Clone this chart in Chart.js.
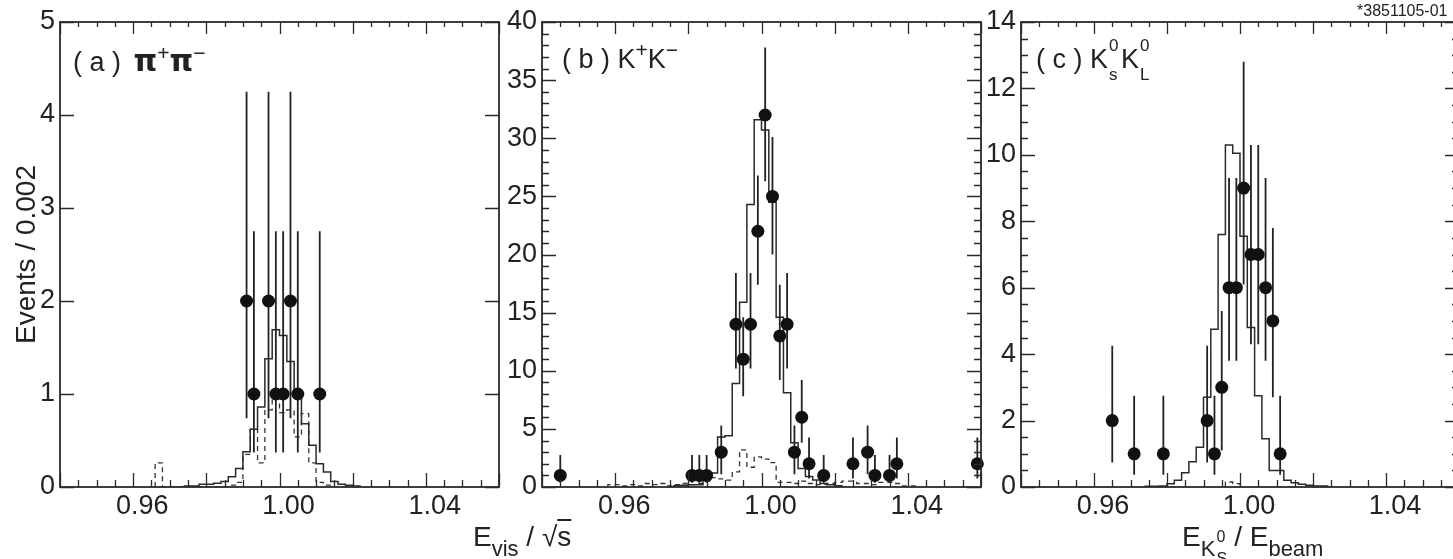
<!DOCTYPE html>
<html>
<head>
<meta charset="utf-8">
<script src="https://cdn.jsdelivr.net/npm/chart.js@4.4.1/dist/chart.umd.min.js"></script>
<style>
    html, body { margin: 0; padding: 0; background: #fff; width: 1453px; height: 559px; overflow: hidden; }
    canvas { position: absolute; top: 0; }
    .txt { position: absolute; font-family: "Liberation Sans", Arial, sans-serif; color: #222; white-space: nowrap; line-height: 1; }
    .sup { font-size: 0.78em; position: relative; top: -0.5em; }
    .sb { font-size: 22px; position: relative; top: 10px; }
    .pi { font-family: "DejaVu Sans", sans-serif; font-weight: bold; font-size: 30px; }
    .stk { display: inline-block; position: relative; height: 0; }
    .stk span { position: absolute; left: 1px; line-height: 1; }
</style>
</head>
<body>
<canvas id="chartA" width="520" height="559" style="left:0px"></canvas>
<canvas id="chartB" width="500" height="559" style="left:500px"></canvas>
<canvas id="chartC" width="500" height="559" style="left:981px"></canvas>

<div class="txt" style="left:73px;top:46px;font-size:27px">( a ) <span class="pi" style="margin-left:5px">π</span><span class="sup">+</span><span class="pi">π</span><span class="sup">−</span></div>
<div class="txt" style="left:562px;top:46px;font-size:27px">( b ) K<span class="sup">+</span>K<span class="sup">−</span></div>
<div class="txt" style="left:1036px;top:46px;font-size:27px">( c ) K<span class="stk" style="width:13px"><span style="font-size:17px;top:-31px">0</span><span style="font-size:17px;top:-2px">s</span></span>K<span class="stk" style="width:13px"><span style="font-size:17px;top:-31px">0</span><span style="font-size:17px;top:-2px">L</span></span></div>
<div class="txt" style="left:473px;top:523px;font-size:28px">E<span class="sb">vis</span> / √<span style="text-decoration:overline">s</span></div>
<div class="txt" style="left:1182px;top:523px;font-size:28px">E<span class="sb">K</span><span class="stk" style="width:11px"><span style="font-size:16px;top:-17px">0</span><span style="font-size:16px;top:5px">S</span></span> / E<span class="sb">beam</span></div>
<div class="txt" style="left:1357px;top:3px;font-size:16px">*3851105-01</div>

<script>
// Common axis settings
const binWidth = 0.002;
const xTickValues = [0.96, 1.00, 1.04];

// (a) pi+ pi- : data points
const aCenters = [0.991, 0.993, 0.997, 0.999, 1.001, 1.003, 1.005, 1.011];
const aCounts  = [2, 1, 2, 1, 1, 2, 1, 1];
const aErrLo   = [0.74, 0.37, 0.74, 0.37, 0.37, 0.74, 0.37, 0.37];
const aErrHi   = [4.25, 2.75, 4.25, 2.75, 2.75, 4.25, 2.75, 2.75];
// (a) solid histogram, bins starting at 0.974
const aSolidStart = 0.974;
const aSolid = [0.01, 0.01, 0.03, 0.03, 0.04, 0.06, 0.11, 0.2, 0.38, 0.62, 0.86, 1.38, 1.69,
                1.63, 1.35, 1.0, 0.68, 0.45, 0.25, 0.16, 0.06, 0.03, 0.02, 0.01];
// (a) dashed histogram, bins starting at 0.966
const aDashStart = 0.966;
const aDash = [0.26, 0, 0, 0, 0, 0, 0, 0, 0, 0, 0.02, 0.05, 0.35, 0.62, 0.26, 0.83, 0.95,
               0.8, 0.83, 0.54, 0.79, 0.26, 0.05, 0.02];
const aYTicks = [0, 1, 2, 3, 4, 5];

// (b) K+ K-
const bCenters = [0.945, 0.981, 0.983, 0.985, 0.989, 0.993, 0.995, 0.997, 0.999, 1.001, 1.003, 1.005,
                  1.007, 1.009, 1.011, 1.013, 1.017, 1.025, 1.029, 1.031, 1.035, 1.037, 1.059];
const bCounts  = [1, 1, 1, 1, 3, 14, 11, 14, 22, 32, 25, 13, 14, 3, 6, 2, 1, 2, 3, 1, 1, 2, 2];
const bErrLo   = [0.37, 0.37, 0.37, 0.37, 1.1, 10.2, 7.8, 10.2, 17.4, 26.3, 20.0, 9.2, 10.2, 1.1, 3.8,
                  0.74, 0.37, 0.74, 1.1, 0.37, 0.37, 0.74, 0.74];
const bErrHi   = [2.75, 2.75, 2.75, 2.75, 5.3, 18.4, 14.6, 18.4, 26.8, 37.8, 30.1, 17.4, 18.4, 5.3, 9.2,
                  4.25, 2.75, 4.25, 5.3, 2.75, 2.75, 4.25, 4.25];
const bSolidStart = 0.976;
const bSolid = [0.1, 0.15, 0.2, 0.2, 0.6, 1.2, 4.3, 4.4, 8.9, 15.9, 24.3, 31.6, 30.7, 24.5, 14.6,
                8.1, 3.8, 1.6, 0.9, 0.6, 0.3, 0.2, 0.1];
const bDashStart = 0.958;
const bDash = [0.2, 0.2, 0.1, 0.2, 0.1, 0.3, 0.2, 0.3, 0.1, 0.2, 0.3, 0.2, 0.3, 0.5, 0.8, 0.7, 0.6,
               1.3, 3.2, 1.7, 2.6, 2.4, 2.1, 0.4, 0.4, 0.3, 0.5, 0.3, 0.2, 0.2, 0.3, 0.4, 0.5, 0.5,
               0.3, 0.3, 0.2, 0.4, 0.4, 0.3, 0.1, 0.1];
const bYTicks = [0, 5, 10, 15, 20, 25, 30, 35, 40];

// (c) Ks KL
const cCenters = [0.965, 0.971, 0.979, 0.991, 0.993, 0.995, 0.997, 0.999, 1.001, 1.003, 1.005, 1.007, 1.009, 1.011];
const cCounts  = [2, 1, 1, 2, 1, 3, 6, 6, 9, 7, 7, 6, 5, 1];
const cErrLo   = [0.74, 0.37, 0.37, 0.74, 0.37, 1.1, 3.8, 3.8, 6.1, 4.3, 4.3, 3.8, 2.7, 0.37];
const cErrHi   = [4.25, 2.75, 2.75, 4.25, 2.75, 5.3, 9.3, 9.3, 12.8, 10.3, 10.3, 9.3, 7.8, 2.75];
const cSolidStart = 0.974;
const cSolid = [0.02, 0.02, 0.03, 0.1, 0.2, 0.43, 0.76, 1.2, 2.7, 4.75, 7.6, 10.3, 10.05, 7.55, 4.8,
                2.75, 1.45, 0.5, 0.5, 0.2, 0.13, 0.08, 0.05, 0.03, 0.03];
const cDashStart = 0.996;
const cDash = [0.15, 0.1];
const cYTicks = [0, 2, 4, 6, 8, 10, 12, 14];

const ink = '#222';
const tickFont = { family: '"Liberation Sans", Arial, sans-serif', size: 27 };

// Histogram outline as stepped line points (bin low edges)
function stepData(start, values) {
    const pts = [{ x: start, y: 0 }];
    values.forEach((v, i) => pts.push({ x: start + i * binWidth, y: v }));
    const end = start + values.length * binWidth;
    pts.push({ x: end, y: values[values.length - 1] });
    pts.push({ x: end, y: 0 });
    return pts;
}

// Vertical error bars as broken line segments
function errorData(centers, lo, hi) {
    const pts = [];
    centers.forEach((c, i) => {
        pts.push({ x: c, y: lo[i] }, { x: c, y: hi[i] }, { x: c, y: null });
    });
    return pts;
}

// Frame with inward ticks on all four sides
const frameTicks = {
    id: 'frameTicks',
    afterDraw(chart, args, opts) {
        const { ctx, chartArea: a, scales: { x, y } } = chart;
        const steps = (lo, hi, step) => {
            const out = [];
            for (let k = Math.ceil(lo / step - 1e-6); k * step <= hi + 1e-9; k++) out.push(k * step);
            return out;
        };
        const isMajor = (v, step) => Math.abs(v / step - Math.round(v / step)) < 1e-6;
        ctx.save();
        ctx.strokeStyle = '#2a2a2a';
        ctx.lineWidth = 1.3;
        ctx.beginPath();
        steps(x.min, x.max, opts.xMinor).forEach(v => {
            const px = Math.round(x.getPixelForValue(v)) + 0.5;
            const major = isMajor(v, opts.xMajor);
            ctx.moveTo(px, a.bottom); ctx.lineTo(px, a.bottom - (major ? 14 : 7));
            ctx.moveTo(px, a.top); ctx.lineTo(px, a.top + (major ? 12 : 5));
        });
        steps(y.min, y.max, opts.yMinor).forEach(v => {
            const py = Math.round(y.getPixelForValue(v)) + 0.5;
            const len = isMajor(v, opts.yMajor) ? 14 : 7;
            ctx.moveTo(a.left, py); ctx.lineTo(a.left + len, py);
            ctx.moveTo(a.right, py); ctx.lineTo(a.right - len, py);
        });
        ctx.stroke();
        ctx.lineWidth = 1.8;
        ctx.strokeRect(a.left, a.top, a.right - a.left, a.bottom - a.top);
        ctx.restore();
    }
};

function makePanel(id, p) {
    new Chart(document.getElementById(id), {
        type: 'line',
        data: {
            datasets: [
                {
                    data: p.centers.map((c, i) => ({ x: c, y: p.counts[i] })),
                    showLine: false, pointRadius: 6.5, pointHoverRadius: 6.5,
                    pointBackgroundColor: '#111', pointBorderWidth: 0, order: 0, clip: false
                },
                {
                    data: errorData(p.centers, p.lo, p.hi),
                    borderColor: ink, borderWidth: 1.8, pointRadius: 0, spanGaps: false, order: 1
                },
                {
                    data: stepData(p.solidStart, p.solid),
                    stepped: 'before', borderColor: '#2a2a2a', borderWidth: 1.5, pointRadius: 0, order: 2
                },
                {
                    data: stepData(p.dashStart, p.dash),
                    stepped: 'before', borderColor: '#333', borderWidth: 1.3, borderDash: [5, 4],
                    pointRadius: 0, order: 3
                }
            ]
        },
        options: {
            responsive: false,
            animation: false,
            events: [],
            devicePixelRatio: 1,
            layout: { padding: { top: 22, right: p.padRight, bottom: 0, left: 0 } },
            plugins: {
                legend: { display: false },
                tooltip: { enabled: false },
                frameTicks: { xMinor: 0.005, xMajor: 0.02, yMinor: p.yMinor, yMajor: p.yMajor }
            },
            scales: {
                x: {
                    type: 'linear', min: 0.94, max: 1.06,
                    afterBuildTicks: s => { s.ticks = xTickValues.map(v => ({ value: v })); },
                    afterFit: s => { s.height = 72; },
                    grid: { display: false, drawTicks: false }, border: { display: false },
                    ticks: {
                        callback: v => v.toFixed(2), font: tickFont, color: ink,
                        padding: 3, labelOffset: 9, maxRotation: 0, autoSkip: false
                    }
                },
                y: {
                    type: 'linear', min: 0, max: p.yMax,
                    afterBuildTicks: s => { s.ticks = p.yTicks.map(v => ({ value: v })); },
                    afterFit: s => { s.width = p.yWidth; },
                    grid: { display: false, drawTicks: false }, border: { display: false },
                    ticks: { font: tickFont, color: ink, padding: 5, autoSkip: false },
                    title: {
                        display: !!p.yTitle, text: p.yTitle || '', color: ink,
                        font: { family: '"Liberation Sans", Arial, sans-serif', size: 28 },
                        padding: { top: 10, bottom: 0 }
                    }
                }
            }
        },
        plugins: [frameTicks]
    });
}

makePanel('chartA', {
    centers: aCenters, counts: aCounts, lo: aErrLo, hi: aErrHi,
    solidStart: aSolidStart, solid: aSolid, dashStart: aDashStart, dash: aDash,
    yMax: 5, yTicks: aYTicks, yMajor: 1, yMinor: 1, yWidth: 60, padRight: 21,
    yTitle: 'Events / 0.002'
});
makePanel('chartB', {
    centers: bCenters, counts: bCounts, lo: bErrLo, hi: bErrHi,
    solidStart: bSolidStart, solid: bSolid, dashStart: bDashStart, dash: bDash,
    yMax: 40, yTicks: bYTicks, yMajor: 5, yMinor: 1, yWidth: 42, padRight: 19
});
makePanel('chartC', {
    centers: cCenters, counts: cCounts, lo: cErrLo, hi: cErrHi,
    solidStart: cSolidStart, solid: cSolid, dashStart: cDashStart, dash: cDash,
    yMax: 14, yTicks: cYTicks, yMajor: 2, yMinor: 0.5, yWidth: 40, padRight: 22
});
</script>
</body>
</html>
